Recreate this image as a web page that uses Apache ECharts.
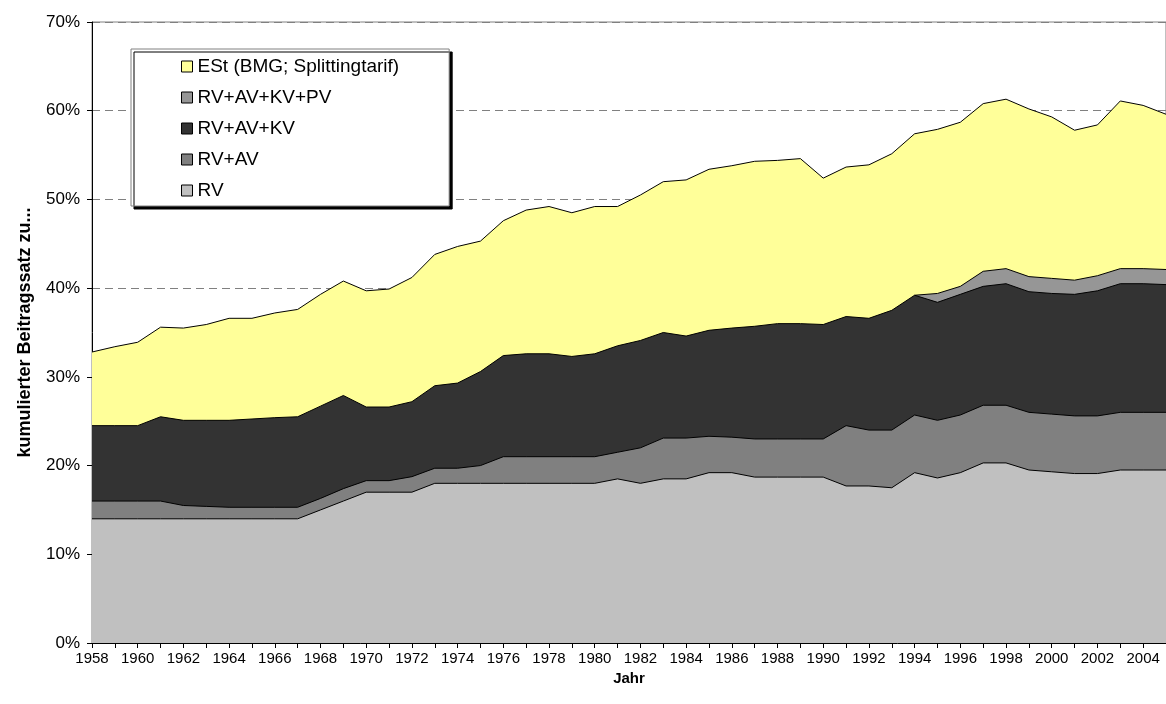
<!DOCTYPE html>
<html>
<head>
<meta charset="utf-8">
<script src="https://cdn.jsdelivr.net/npm/echarts@6/dist/echarts.min.js"></script>
<style>
  html, body { margin: 0; padding: 0; background: #fff; }
  #chart { width: 1166px; height: 704px; }
</style>
</head>
<body>
<div id="chart"></div>
<script>
// Jahre 1958 - 2005
var years = [];
for (var y = 1958; y <= 2005; y++) years.push(String(y));

// kumulierte Beitragssätze in %
var rv = [14, 14, 14, 14, 14, 14, 14, 14, 14, 14,
  15, 16, 17, 17, 17, 18, 18, 18, 18, 18, 18, 18, 18,
  18.5, 18, 18.5, 18.5, 19.2, 19.2, 18.7, 18.7, 18.7, 18.7,
  17.7, 17.7, 17.5, 19.2, 18.6, 19.2, 20.3, 20.3, 19.5, 19.3, 19.1, 19.1, 19.5, 19.5, 19.5];

var rvAv = [16, 16, 16, 16, 15.5, 15.4, 15.3, 15.3, 15.3, 15.3,
  16.3, 17.4, 18.3, 18.3, 18.75, 19.7, 19.7, 20, 21, 21, 21, 21, 21,
  21.5, 22, 23.1, 23.1, 23.3, 23.2, 23, 23, 23, 23,
  24.5, 24, 24, 25.7, 25.1, 25.7, 26.8, 26.8, 26, 25.8, 25.6, 25.6, 26, 26, 26];

var rvAvKv = [24.5, 24.5, 24.5, 25.5, 25.1, 25.1, 25.1, 25.25, 25.4, 25.5,
  26.7, 27.9, 26.6, 26.6, 27.2, 29, 29.3, 30.6, 32.4, 32.6, 32.6, 32.3, 32.6,
  33.5, 34.1, 35, 34.6, 35.25, 35.5, 35.7, 36, 36, 35.9,
  36.8, 36.6, 37.5, 39.2, 38.4, 39.3, 40.2, 40.5, 39.6, 39.4, 39.3, 39.7, 40.5, 40.5, 40.4];

// Pflegeversicherung erst ab 1994/95
var rvAvKvPv = [null, null, null, null, null, null, null, null, null, null,
  null, null, null, null, null, null, null, null, null, null, null, null, null,
  null, null, null, null, null, null, null, null, null, null,
  null, null, null, 39.2, 39.4, 40.2, 41.9, 42.2, 41.3, 41.1, 40.9, 41.4, 42.2, 42.2, 42.1];

var est = [32.8, 33.4, 33.9, 35.6, 35.5, 35.9, 36.6, 36.6, 37.2, 37.6,
  39.3, 40.8, 39.7, 39.9, 41.2, 43.8, 44.7, 45.3, 47.6, 48.8, 49.2, 48.5, 49.2,
  49.2, 50.5, 52, 52.2, 53.4, 53.8, 54.3, 54.4, 54.6, 52.4,
  53.65, 53.9, 55.15, 57.4, 57.9, 58.7, 60.8, 61.3, 60.2, 59.3, 57.8, 58.4, 61.1, 60.6, 59.6];

var names = ['ESt (BMG; Splittingtarif)', 'RV+AV+KV+PV', 'RV+AV+KV', 'RV+AV', 'RV'];
var colors = ['#FFFF99', '#969696', '#333333', '#808080', '#C0C0C0'];
var values = [est, rvAvKvPv, rvAvKv, rvAv, rv];

var font = 'Liberation Sans, Arial, sans-serif';

var series = [];
for (var i = 0; i < names.length; i++) {
  series.push({
    name: names[i],
    type: 'line',
    data: values[i],
    showSymbol: false,
    symbol: 'none',
    connectNulls: false,
    animation: false,
    itemStyle: { color: colors[i] },
    lineStyle: { color: '#000', width: 1 },
    areaStyle: { color: colors[i], opacity: 1 }
  });
}

var myChart = echarts.init(document.getElementById('chart'));
myChart.setOption({
  animation: false,
  textStyle: { fontFamily: font },
  grid: {
    left: 92, right: 0, top: 22, bottom: 61,
    show: true, borderColor: '#808080', borderWidth: 1
  },
  legend: {
    data: names,
    orient: 'vertical',
    left: 131, top: 49,
    padding: [8, 50, 6, 50],
    itemWidth: 11, itemHeight: 11, itemGap: 12,
    icon: 'rect',
    itemStyle: { borderColor: '#000', borderWidth: 1 },
    textStyle: { fontSize: 19, color: '#000', fontFamily: font, lineHeight: 19 },
    backgroundColor: '#fff',
    borderColor: '#808080', borderWidth: 1,
    shadowColor: '#000', shadowOffsetX: 3, shadowOffsetY: 3, shadowBlur: 0
  },
  xAxis: {
    type: 'category',
    data: years,
    boundaryGap: false,
    name: 'Jahr',
    nameLocation: 'middle',
    nameGap: 24,
    nameTextStyle: { fontSize: 15, fontWeight: 'bold', color: '#000', fontFamily: font, verticalAlign: 'top' },
    axisLine: { lineStyle: { color: '#000', width: 1 } },
    axisTick: { interval: 0, length: 5, lineStyle: { color: '#000' } },
    axisLabel: { interval: 1, fontSize: 15, color: '#000', margin: 8, fontFamily: font },
    splitLine: { show: false }
  },
  yAxis: {
    type: 'value',
    min: 0, max: 70, interval: 10,
    name: 'kumulierter Beitragssatz zu...',
    nameLocation: 'middle',
    nameRotate: 90,
    nameGap: 58,
    nameTextStyle: { fontSize: 18, fontWeight: 'bold', color: '#000', fontFamily: font },
    axisLine: { show: true, lineStyle: { color: '#000', width: 1 } },
    axisTick: { show: true, length: 5, lineStyle: { color: '#000' } },
    axisLabel: { formatter: '{value}%', fontSize: 17, color: '#000', margin: 12, fontFamily: font },
    splitLine: { show: true, lineStyle: { color: '#808080', type: [8, 5], width: 1 } }
  },
  series: series
});
</script>
</body>
</html>
